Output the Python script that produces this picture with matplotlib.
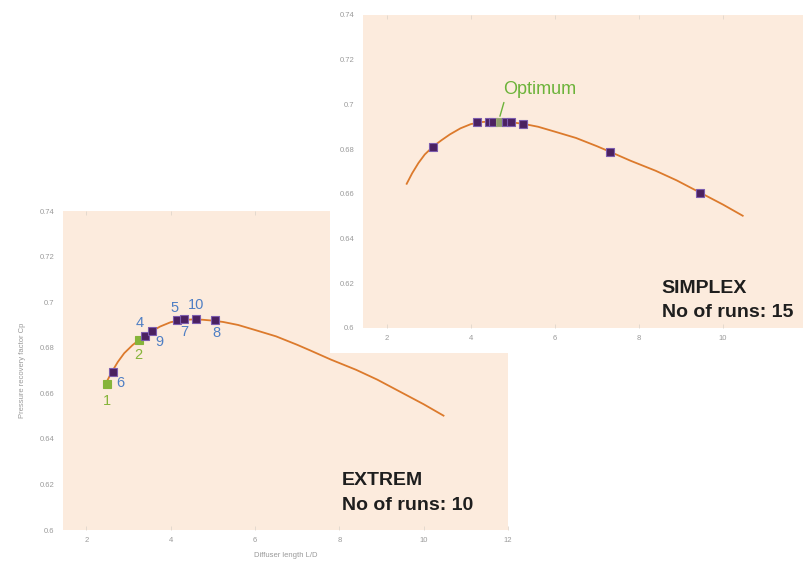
import matplotlib.pyplot as plt
from matplotlib.patches import Rectangle

plt.rcParams['font.family'] = ['Liberation Sans', 'DejaVu Sans']

# response curve: pressure recovery factor vs diffuser length
curve_ld = [2.47, 2.60, 2.75, 2.90, 3.10, 3.30, 3.50, 3.75, 4.00, 4.25, 4.50,
            4.75, 5.00, 5.25, 5.60, 6.00, 6.50, 7.00, 7.30, 7.80, 8.40, 8.90,
            9.45, 10.00, 10.47]
curve_cp = [0.6645, 0.6692, 0.6738, 0.6776, 0.6812, 0.6840, 0.6866, 0.6893,
            0.6912, 0.6921, 0.6924, 0.6923, 0.6919, 0.6913, 0.6900, 0.6878,
            0.6850, 0.6813, 0.6789, 0.6748, 0.6703, 0.6660, 0.6606, 0.6552,
            0.6502]

# EXTREM runs
extrem_run = [1, 6, 2, 4, 9, 5, 7, 10, 8]
extrem_ld = [2.49, 2.63, 3.26, 3.40, 3.57, 4.15, 4.31, 4.61, 5.06]
extrem_cp = [0.6643, 0.6695, 0.6832, 0.6853, 0.6874, 0.6921, 0.6924, 0.6924, 0.6920]

# SIMPLEX runs
simplex_ld = [3.10, 4.14, 4.43, 4.52, 4.69, 4.83, 4.95, 5.24, 7.31, 9.45]
simplex_cp = [0.6811, 0.6921, 0.6921, 0.6921, 0.6922, 0.6921, 0.6921, 0.6913, 0.6789, 0.6603]
optimum = 4  # index of the best simplex run

yticks = [0.6, 0.62, 0.64, 0.66, 0.68, 0.7, 0.72, 0.74]
ytick_labels = ['0.6', '0.62', '0.64', '0.66', '0.68', '0.7', '0.72', '0.74']
xticks = [2, 4, 6, 8, 10, 12]
xtick_labels = ['2', '4', '6', '8', '10', '12']

BG = '#fcebdd'
CURVE = '#dc7a2c'
MARK = '#4b2160'
MARK_EDGE = '#7c5cae'
GREEN = '#86b43a'
BLUE = '#4f7fc4'


def style_axes(ax, xlim):
    ax.set_facecolor(BG)
    for s in ax.spines.values():
        s.set_visible(False)
    ax.set_xlim(*xlim)
    ax.set_ylim(0.6, 0.74)
    ax.set_xticks(xticks)
    ax.set_xticklabels(xtick_labels)
    ax.set_yticks(yticks)
    ax.set_yticklabels(ytick_labels)
    ax.tick_params(axis='x', direction='in', length=3, width=0.6, color='#e0d6cc',
                   top=True, labelsize=5.5, labelcolor='#9a9a9a', pad=5)
    ax.tick_params(axis='y', length=0, labelsize=5.5, labelcolor='#9a9a9a', pad=6)
    ax.plot(curve_ld, curve_cp, color=CURVE, lw=1.3, zorder=2)


fig = plt.figure(figsize=(8.04, 5.65), dpi=100)

# EXTREM panel (lower left)
ax1 = fig.add_axes([0.0784, 0.0619, 0.5535, 0.5646], zorder=0)
style_axes(ax1, (1.45, 12.0))
ax1.set_xlabel('Diffuser length L/D', fontsize=5.5, color='#9a9a9a', labelpad=6)
ax1.set_ylabel('Pressure recovery factor Cp', fontsize=5.5, color='#9a9a9a', labelpad=10)

label_offset = {1: (0, -17), 6: (8, -11), 2: (-1, -15), 4: (-6, 13), 9: (7, -11),
                5: (-2, 12), 10: (0, 14), 7: (1, -13), 8: (1, -13)}
for run, ld, cp in zip(extrem_run, extrem_ld, extrem_cp):
    first = run <= 2
    ax1.plot(ld, cp, 's', ms=6, mfc=GREEN if first else MARK,
             mec=GREEN if first else MARK_EDGE, mew=0.8, zorder=3)
    ax1.annotate(str(run), (ld, cp), xytext=label_offset[run],
                 textcoords='offset pixels', ha='center', va='center',
                 fontsize=10.5, color=GREEN if first else BLUE, zorder=4)

ax1.text(0.627, 0.141, 'EXTREM', transform=ax1.transAxes, fontsize=14,
         fontweight='bold', color='#1e1e1e', va='baseline')
ax1.text(0.627, 0.063, 'No of runs: 10', transform=ax1.transAxes, fontsize=14,
         fontweight='bold', color='#1e1e1e', va='baseline')

# white backing of the SIMPLEX panel, laid over the first one
fig.add_artist(Rectangle((0.4104, 0.3752), 0.6, 0.7, transform=fig.transFigure,
                         facecolor='white', edgecolor='none', zorder=1))

# SIMPLEX panel (upper right)
ax2 = fig.add_axes([0.4515, 0.4195, 0.5522, 0.554], zorder=2)
style_axes(ax2, (1.43, 12.0))
for i, (ld, cp) in enumerate(zip(simplex_ld, simplex_cp)):
    best = i == optimum
    ax2.plot(ld, cp, 's', ms=6, mfc='#8f9e6c' if best else MARK,
             mec='#9aa878' if best else MARK_EDGE, mew=0.8, zorder=3)

ax2.annotate('Optimum', (simplex_ld[optimum], simplex_cp[optimum] + 0.0025),
             xytext=(4.76, 0.7065), ha='left', va='center', fontsize=13,
             color='#6cb33a',
             arrowprops=dict(arrowstyle='-', color='#6cb33a', lw=1.0,
                             relpos=(0.03, 0.0), shrinkA=1, shrinkB=0))

ax2.text(0.673, 0.112, 'SIMPLEX', transform=ax2.transAxes, fontsize=14,
         fontweight='bold', color='#1e1e1e', va='baseline')
ax2.text(0.673, 0.035, 'No of runs: 15', transform=ax2.transAxes, fontsize=14,
         fontweight='bold', color='#1e1e1e', va='baseline')

fig.savefig('out.png', dpi=100)
